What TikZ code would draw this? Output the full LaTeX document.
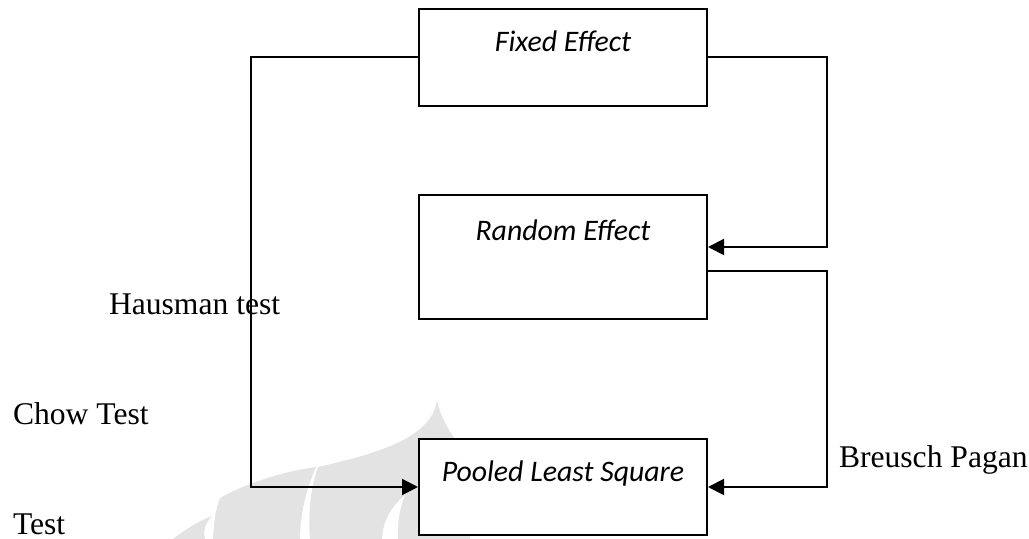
\documentclass[tikz,border=0pt]{standalone}
\usepackage{fontspec}
\setmainfont{Liberation Serif}
\newfontfamily\boxfont{Carlito}
\usetikzlibrary{arrows.meta}

\begin{document}
\begin{tikzpicture}[x=0.5pt,y=-0.5pt,>={Triangle[length=8pt,width=8pt]},
        line width=1pt,
        effect box/.style={rectangle,draw,fill=white,minimum width=144pt,inner sep=0pt},
        box text/.style={anchor=base,label distance=-22pt,font=\boxfont\itshape\fontsize{14.9}{17}\selectfont},
        test label/.style={anchor=base west,inner sep=0pt,font=\fontsize{15.8}{19}\selectfont},
        mark shade/.style={fill=black!11,draw=none}]
        \useasboundingbox (0,0) rectangle (1029,539);

        % faint logo in the background
        \fill[mark shade] (173,539) .. controls (185,530) and (198,521) .. (212,516)
                .. controls (205,523) and (203,531) .. (205,539) -- cycle;
        \fill[mark shade] (213,539) .. controls (214,520) and (216,508) .. (220,498)
                .. controls (245,484) and (280,472) .. (316,467)
                .. controls (306,490) and (300,515) .. (300,539) -- cycle;
        \fill[mark shade] (437,400) .. controls (432,440) and (370,455) .. (318,467)
                .. controls (310,490) and (308,515) .. (310,539) -- (470,539) -- (470,445) -- (455,439)
                .. controls (447,428) and (440,415) .. cycle;
        \fill[white] (405,495) .. controls (390,508) and (383,522) .. (382,539) -- (398,539)
                .. controls (397,522) and (400,507) .. cycle;

        \node[effect box,minimum height=48.5pt,label={[box text]north:Fixed Effect}] (fixed) at (563,57.5) {};
        \node[effect box,minimum height=62pt,label={[box text,label distance=-23.5pt]north:Random Effect}] (random) at (563,257) {};
        \node[effect box,minimum height=48pt,label={[box text]north:Pooled Least Square}] (pooled) at (563,487) {};

        \coordinate (hbend) at (251,300);
        \coordinate (febend) at (827,247);
        \coordinate (rebend) at (827,271);

        \draw[->] (fixed.west) -| (hbend) |- (pooled.west);
        \draw[->] (fixed.east) -| (febend) -- (febend -| random.east);
        \draw[->] (rebend -| random.east) -- (rebend) |- (pooled.east);

        \node[test label] (hausman) at (108,315) {Hausman test};
        \node[test label] (chow) at (12,425) {Chow Test};
        \node[test label] (chowrest) at (12,535) {Test};
        \node[test label] (breusch) at (838,468) {Breusch Pagan};
\end{tikzpicture}
\end{document}
